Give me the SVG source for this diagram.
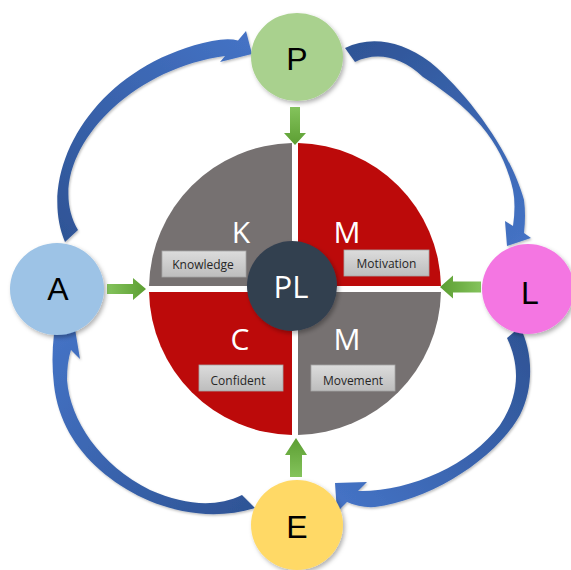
<svg xmlns="http://www.w3.org/2000/svg" width="571" height="570" viewBox="0 0 571 570">
<defs>
<style>
.big{font-family:"Open Sans","Liberation Sans",sans-serif;font-size:30px;fill:#fff;text-anchor:middle}
.out{font-family:"Liberation Sans",Arial,sans-serif;font-size:32px;fill:#000;text-anchor:middle}
.lbl{font-family:"Open Sans","Liberation Sans",sans-serif;font-size:12px;fill:#262626;text-anchor:middle}
.box{fill:url(#gBox);stroke:#A6A6A6;stroke-width:0.8}
.gray{fill:#767171}
.red{fill:#BC0A0A}
</style>
<filter id="sh" x="-20%" y="-20%" width="150%" height="150%">
<feDropShadow dx="2" dy="2.5" stdDeviation="2" flood-color="#000" flood-opacity="0.3"/>
</filter>
<filter id="shs" x="-20%" y="-20%" width="150%" height="150%">
<feDropShadow dx="1" dy="1.5" stdDeviation="1" flood-color="#000" flood-opacity="0.25"/>
</filter>
<linearGradient id="gBox" x1="0" y1="0" x2="0" y2="1">
<stop offset="0" stop-color="#DCDCDC"/><stop offset="1" stop-color="#BDBDBD"/>
</linearGradient>
<linearGradient id="gDown" x1="0" y1="0" x2="0" y2="1">
<stop offset="0" stop-color="#84C35C"/><stop offset="1" stop-color="#5C9E32"/>
</linearGradient>
<linearGradient id="gUp" x1="0" y1="1" x2="0" y2="0">
<stop offset="0" stop-color="#84C35C"/><stop offset="1" stop-color="#5C9E32"/>
</linearGradient>
<linearGradient id="gRight" x1="0" y1="0" x2="1" y2="0">
<stop offset="0" stop-color="#84C35C"/><stop offset="1" stop-color="#5C9E32"/>
</linearGradient>
<linearGradient id="gLeft" x1="1" y1="0" x2="0" y2="0">
<stop offset="0" stop-color="#84C35C"/><stop offset="1" stop-color="#5C9E32"/>
</linearGradient>
<linearGradient id="b1" gradientUnits="userSpaceOnUse" x1="70" y1="240" x2="250" y2="45">
<stop offset="0" stop-color="#2F5597"/><stop offset="1" stop-color="#4472C4"/>
</linearGradient>
<linearGradient id="b2" gradientUnits="userSpaceOnUse" x1="350" y1="55" x2="518" y2="245">
<stop offset="0" stop-color="#2F5597"/><stop offset="1" stop-color="#4472C4"/>
</linearGradient>
<linearGradient id="b3" gradientUnits="userSpaceOnUse" x1="514" y1="332" x2="340" y2="495">
<stop offset="0" stop-color="#2F5597"/><stop offset="1" stop-color="#4472C4"/>
</linearGradient>
<linearGradient id="b4" gradientUnits="userSpaceOnUse" x1="248" y1="502" x2="65" y2="330">
<stop offset="0" stop-color="#2F5597"/><stop offset="1" stop-color="#4472C4"/>
</linearGradient>
</defs>
<rect width="571" height="570" fill="#fff"/>

<g id="center-circle">
<path class="gray" d="M292 286 L292 143.03 A146 146 0 0 0 149.03 286 Z"/>
<path class="red" d="M298 286 L298 143.03 A146 146 0 0 1 440.97 286 Z"/>
<path class="red" d="M292 292 L292 434.97 A146 146 0 0 1 149.03 292 Z"/>
<path class="gray" d="M298 292 L298 434.97 A146 146 0 0 0 440.97 292 Z"/>
</g>

<g id="quadrant-K">
<text class="big" x="241" y="243">K</text>
<rect class="box" x="162" y="251" width="84" height="26"/>
<text class="lbl" x="203" y="269">Knowledge</text>
</g>
<g id="quadrant-Motivation">
<text class="big" x="347" y="243">M</text>
<rect class="box" x="344" y="250" width="85" height="26"/>
<text class="lbl" x="386.5" y="268">Motivation</text>
</g>
<g id="quadrant-C">
<text class="big" x="240" y="350">C</text>
<rect class="box" x="199" y="365" width="84" height="26"/>
<text class="lbl" x="238" y="385">Confident</text>
</g>
<g id="quadrant-Movement">
<text class="big" x="347" y="350">M</text>
<rect class="box" x="311" y="365" width="84" height="26"/>
<text class="lbl" x="353" y="385">Movement</text>
</g>

<g id="PL">
<circle cx="292" cy="286" r="45" fill="#333F50" filter="url(#sh)"/>
<text class="big" x="291" y="298" style="font-size:31px">PL</text>
</g>

<g id="connectors">
<path fill="url(#gDown)" d="M290 107 H300 V133 H306 L295 145 L284 133 H290 Z"/>
<path fill="url(#gUp)" d="M290 477 H302 V455 H307 L296 438 L285 455 H290 Z"/>
<path fill="url(#gRight)" d="M107 284 H133 V278 L146 289 L133 300 V294 H107 Z"/>
<path fill="url(#gLeft)" d="M481 281.5 H453 V275.5 L440 287 L453 298.5 V292.5 H481 Z"/>

<path fill="url(#b1)" filter="url(#shs)" d="M65 242 C35 170 95 65 212 41 Q228 38 238 40.5 L246 31 L252 54 L220 62 L225 56 C120 70 40 165 78 230 Z"/>
<path fill="url(#b2)" filter="url(#shs)" d="M345 48 C370 36 400 40 430 62 C470 95 512 155 524 200 Q526 215 524 233 L531 238 L507 246 L505 221 L513 226 Q516 205 513 190 C504 150 482 115 423 77 C400 55 375 52 355 62 Z"/>
<path fill="url(#b3)" filter="url(#shs)" d="M520 327 C532 350 535 385 520 415 C495 460 430 500 375 507 Q360 508 347 502 L337 512 L335 483 L367 482 L358 491 C410 492 470 465 500 425 C520 395 520 365 507 338 Z"/>
<path fill="url(#b4)" filter="url(#shs)" d="M242 495 C215 508 185 505 150 490 C100 465 70 420 67 380 Q67 362 71 350 L80 359 L75 329 L51 329 L54 334 Q51 360 54 385 C58 420 75 448 100 470 C140 505 200 525 255 508 Z"/>
</g>

<g id="P">
<ellipse cx="297" cy="57" rx="46" ry="44" fill="#A9D18E" filter="url(#sh)"/>
<text class="out" x="297" y="70">P</text>
</g>
<g id="A">
<ellipse cx="57" cy="289" rx="47" ry="46" fill="#9DC3E6" filter="url(#sh)"/>
<text class="out" x="58" y="300">A</text>
</g>
<g id="L">
<ellipse cx="528" cy="289" rx="46" ry="45" fill="#F476E2" filter="url(#sh)"/>
<text class="out" x="530" y="304">L</text>
</g>
<g id="E">
<ellipse cx="297" cy="525" rx="46" ry="45" fill="#FFD966" filter="url(#sh)"/>
<text class="out" x="297" y="538">E</text>
</g>
</svg>
